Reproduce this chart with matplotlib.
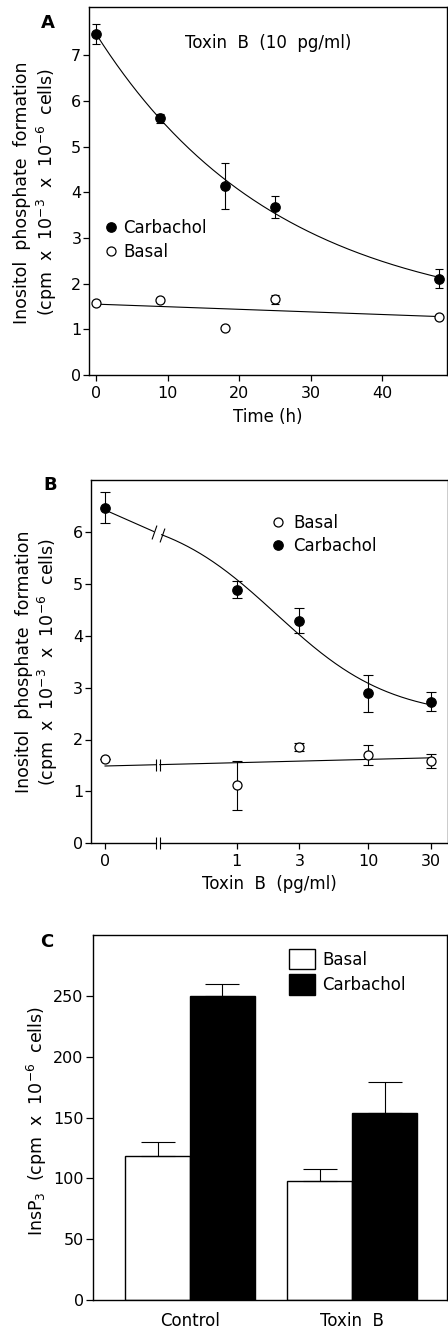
import numpy as np
import matplotlib
matplotlib.use("Agg")
import matplotlib.pyplot as plt
from matplotlib.path import Path

plt.rcParams['font.family'] = ['DejaVu Sans']
plt.rcParams['mathtext.fontset'] = 'dejavusans'

# ---------------- Data ----------------
# Panel A: time course, Toxin B 10 pg/ml
time_h = np.array([0, 9, 18, 25, 48], dtype=float)
a_carb = np.array([7.47, 5.62, 4.14, 3.68, 2.11])
a_carb_err = np.array([0.22, 0.10, 0.50, 0.24, 0.20])
a_basal = np.array([1.58, 1.64, 1.03, 1.66, 1.28])
a_basal_err = np.array([0.0, 0.0, 0.0, 0.10, 0.0])
a_xticks = [0, 10, 20, 30, 40]
a_yticks = [0, 1, 2, 3, 4, 5, 6, 7]

# Panel B: concentration response
toxin_pg = np.array([0, 1, 3, 10, 30], dtype=float)
b_xtick_labels = ['0', '1', '3', '10', '30']
b_carb = np.array([6.47, 4.89, 4.29, 2.89, 2.73])
b_carb_err = np.array([0.30, 0.16, 0.24, 0.36, 0.19])
b_basal = np.array([1.62, 1.12, 1.86, 1.70, 1.59])
b_basal_err = np.array([0.0, 0.47, 0.08, 0.20, 0.14])
b_yticks = [0, 1, 2, 3, 4, 5, 6]

# Panel C: InsP3
c_groups = ['Control', 'Toxin  B']
c_basal = np.array([118, 98])
c_basal_err = np.array([11.5, 10.0])
c_carb = np.array([250, 154])
c_carb_err = np.array([9.5, 25.0])
c_yticks = [0, 50, 100, 150, 200, 250]

# ---------------- Fits ----------------
def fit_exp(t, y):
    best = None
    for k in np.linspace(0.002, 0.3, 3000):
        X = np.column_stack([np.ones_like(t), np.exp(-k * t)])
        coef = np.linalg.lstsq(X, y, rcond=None)[0]
        sse = np.sum((X @ coef - y) ** 2)
        if best is None or sse < best[0]:
            best = (sse, k, coef)
    _, k, (c, a) = best
    return lambda tt: c + a * np.exp(-k * tt)


def fit_sigmoid(x, y, h=1.0):
    best = None
    for lec in np.linspace(-1, 1.5, 1001):
        ec = 10 ** lec
        f = 1.0 / (1.0 + (x / ec) ** h)
        X = np.column_stack([np.ones_like(x), f])
        coef = np.linalg.lstsq(X, y, rcond=None)[0]
        sse = np.sum((X @ coef - y) ** 2)
        if best is None or sse < best[0]:
            best = (sse, ec, coef)
    _, ec, (bot, span) = best
    return lambda xx: bot + span / (1.0 + (np.asarray(xx) / ec) ** h)


# ---------------- Figure ----------------
W, H = 448, 1329
fig = plt.figure(figsize=(W / 100, H / 100), dpi=100)

LW = 0.8
FS = 11.5


def style(ax):
    for s in ax.spines.values():
        s.set_linewidth(1.0)
    ax.tick_params(direction='out', length=4, width=0.9, labelsize=FS, pad=1.5)


def px_axes(left, top, right, bottom):
    return fig.add_axes([left / W, 1 - bottom / H, (right - left) / W, (bottom - top) / H])


# ===== Panel A =====
axA = px_axes(89, 7.3, 447, 375)
style(axA)
fA = fit_exp(time_h, a_carb)
tt = np.linspace(time_h.min(), time_h.max(), 300)
axA.plot(tt, fA(tt), color='black', lw=LW)
pb = np.polyfit(time_h, a_basal, 1)
axA.plot(tt, np.polyval(pb, tt), color='black', lw=LW)
axA.errorbar(time_h, a_carb, yerr=a_carb_err, fmt='none', ecolor='black', elinewidth=LW, capsize=3.2, capthick=LW)
axA.errorbar(time_h, a_basal, yerr=a_basal_err, fmt='none', ecolor='black', elinewidth=LW, capsize=3.2, capthick=LW)
axA.plot(time_h, a_carb, 'o', ms=6.8, mfc='black', mec='black', mew=0.9, label='Carbachol', zorder=5)
axA.plot(time_h, a_basal, 'o', ms=6.5, mfc='white', mec='black', mew=0.9, label='Basal', zorder=5)
axA.set_xlim(-1.0, 49.1)
axA.set_ylim(0, 8.05)
axA.set_xticks(a_xticks)
axA.set_yticks(a_yticks)
axA.tick_params(axis='x', pad=4)
axA.set_xlabel('Time (h)', fontsize=12, labelpad=5)
axA.text(0.5, 0.903, 'Toxin  B  (10  pg/ml)', transform=axA.transAxes, ha='center', va='center', fontsize=12)
axA.legend(loc='upper left', bbox_to_anchor=(0.038, 0.4234), frameon=False, borderpad=0,
           borderaxespad=0, handlelength=1.0, handletextpad=0.25, labelspacing=0.33, fontsize=12)

# ===== Panel B =====
axB = px_axes(90.7, 480, 447.5, 843.3)
style(axB)
zero_pos = -1.0
u_break = -0.6


def to_u(x):
    x = np.asarray(x, dtype=float)
    return np.where(x > 0, np.log10(np.where(x > 0, x, 1.0)), zero_pos)


ub = to_u(toxin_pg)
fB = fit_sigmoid(toxin_pg, b_carb)
g1 = 0.03
y_zero = float(fB(0.0))
y_brk = float(fB(10 ** u_break))
# segment across the "0" part of the broken axis: join fitted value at 0 to the value at the break
u_left = np.linspace(zero_pos, u_break - g1, 20)
axB.plot(u_left, y_zero + (y_brk - y_zero) * (u_left - zero_pos) / (u_break - zero_pos), color='black', lw=LW)
u_right = np.linspace(u_break + g1, ub.max(), 300)
axB.plot(u_right, fB(10 ** u_right), color='black', lw=LW)
slash = Path([(-0.35, -1.0), (0.35, 1.0)], [Path.MOVETO, Path.LINETO])
axB.plot([u_break - g1], [y_zero + (y_brk - y_zero) * (u_break - g1 - zero_pos) / (u_break - zero_pos)],
         marker=slash, ms=10, mec='black', mew=LW, ls='none')
axB.plot([u_break + g1], [fB(10 ** (u_break + g1))], marker=slash, ms=10, mec='black', mew=LW, ls='none')

pbb = np.polyfit(ub, b_basal, 1)
g2 = 0.016
for seg in (np.linspace(zero_pos, u_break - g2, 20), np.linspace(u_break + g2, ub.max(), 100)):
    axB.plot(seg, np.polyval(pbb, seg), color='black', lw=LW)
for uu in (u_break - g2, u_break + g2):
    axB.plot([uu], [np.polyval(pbb, uu)], marker='|', ms=9, mec='black', mew=LW, ls='none')

axB.errorbar(ub, b_carb, yerr=b_carb_err, fmt='none', ecolor='black', elinewidth=LW, capsize=3.5, capthick=LW)
axB.errorbar(ub, b_basal, yerr=b_basal_err, fmt='none', ecolor='black', elinewidth=LW, capsize=3.5, capthick=LW)
axB.plot(ub, b_basal, 'o', ms=6.5, mfc='white', mec='black', mew=0.9, label='Basal', zorder=5)
axB.plot(ub, b_carb, 'o', ms=6.8, mfc='black', mec='black', mew=0.9, label='Carbachol', zorder=5)

xl = (-1.109, 1.602)
axB.set_xlim(*xl)
axB.set_ylim(0, 7)
axB.set_xticks(ub)
axB.set_xticklabels(b_xtick_labels)
axB.set_yticks(b_yticks)
axB.tick_params(axis='x', pad=4)
# broken x axis
axB.spines['bottom'].set_visible(False)
for a0, a1 in ((xl[0], u_break - g2), (u_break + g2, xl[1])):
    axB.plot([a0, a1], [0, 0], color='black', lw=1.0, clip_on=False, solid_capstyle='butt')
for uu in (u_break - g2, u_break + g2):
    axB.plot([uu], [0], marker='|', ms=9, mec='black', mew=LW, ls='none', clip_on=False)
axB.set_xlabel('Toxin  B  (pg/ml)', fontsize=12, labelpad=4)
axB.legend(loc='upper left', bbox_to_anchor=(0.5025, 0.9075), frameon=False, borderpad=0,
           borderaxespad=0, handlelength=1.0, handletextpad=0.4, labelspacing=0.3, fontsize=12)

# ===== Panel C =====
axC = px_axes(92.7, 935, 447, 1300)
style(axC)
xpos = np.arange(len(c_groups))
bw = 0.40
axC.bar(xpos - bw / 2, c_basal, bw, color='white', edgecolor='black', lw=1.0, label='Basal', zorder=2)
axC.bar(xpos + bw / 2, c_carb, bw, color='black', edgecolor='black', lw=1.0, label='Carbachol', zorder=2)
axC.errorbar(xpos - bw / 2, c_basal, yerr=[np.zeros_like(c_basal_err), c_basal_err], fmt='none',
             ecolor='black', elinewidth=LW, capsize=12, capthick=LW, zorder=3)
axC.errorbar(xpos + bw / 2, c_carb, yerr=[np.zeros_like(c_carb_err), c_carb_err], fmt='none',
             ecolor='black', elinewidth=LW, capsize=12, capthick=LW, zorder=1)
axC.set_xlim(-0.6, 1.584)
axC.set_ylim(0, 300)
axC.set_yticks(c_yticks)
axC.set_xticks(xpos)
axC.set_xticklabels(c_groups, fontsize=12)
axC.tick_params(axis='x', length=0, pad=9)
axC.tick_params(axis='y', length=5)
axC.legend(loc='upper left', bbox_to_anchor=(0.555, 0.9616), frameon=False, borderpad=0,
           borderaxespad=0, handlelength=1.56, handleheight=1.5, handletextpad=0.4,
           labelspacing=0.3, fontsize=12)

# ---------------- Labels ----------------
ylab = 'Inositol  phosphate  formation\n(cpm  x  10$^{-3}$  x  10$^{-6}$  cells)'
fig.text(35.9 / W, 1 - 192.5 / H, ylab, rotation=90, ha='center', va='center',
         multialignment='center', fontsize=12.5)
fig.text(37.5 / W, 1 - 661.7 / H, ylab, rotation=90, ha='center', va='center',
         multialignment='center', fontsize=12.5)
fig.text(36.7 / W, 1 - 1121 / H, 'InsP$_3$  (cpm  x  10$^{-6}$  cells)', rotation=90,
         ha='center', va='center', fontsize=12.5)

for lab, (x, y) in {'A': (48, 23), 'B': (50, 485), 'C': (46.7, 941.7)}.items():
    fig.text(x / W, 1 - y / H, lab, ha='center', va='center', fontsize=13, fontweight='bold')

fig.savefig('out.png', dpi=100)
